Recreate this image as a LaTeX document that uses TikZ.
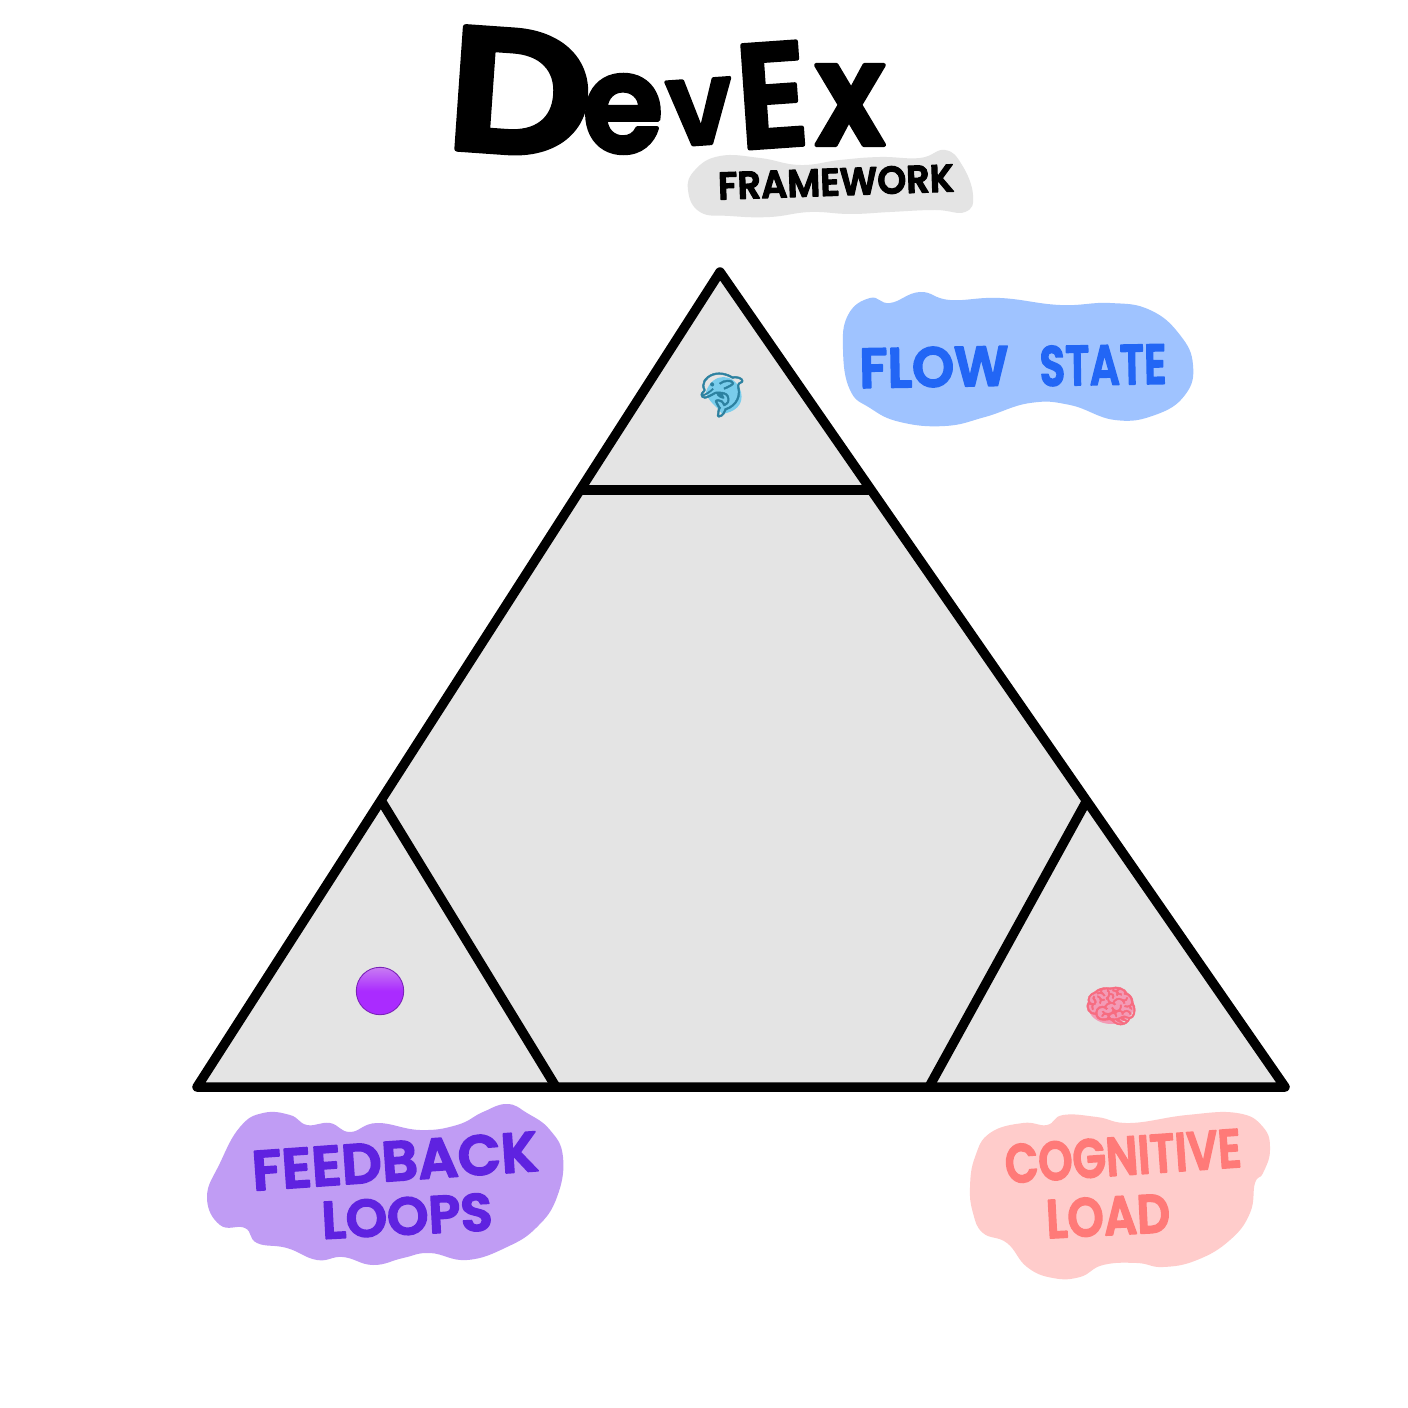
\documentclass[tikz,border=0pt]{standalone}
\usepackage{fontspec}
\newfontfamily\hand[RawFeature={embolden=3}]{Poppins SemiBold}
\newfontfamily\handheavy[RawFeature={embolden=3}]{Poppins SemiBold}
\newfontfamily\emojifont[RawFeature={embolden=1}]{Noto Emoji}
\newcommand{\rnd}{\special{pdf:code 1 j 1 J}}
\newcommand{\sq}[2]{\scalebox{#1}[1]{\rnd #2}}
\definecolor{panel}{HTML}{E4E4E4}
\definecolor{flowbg}{HTML}{9FC3FF}
\definecolor{flowfg}{HTML}{2266F5}
\definecolor{feedbg}{HTML}{C09CF4}
\definecolor{feedfg}{HTML}{5F22E0}
\definecolor{cogbg}{HTML}{FFCCCB}
\definecolor{cogfg}{HTML}{FF7A78}
\definecolor{dottop}{HTML}{C87CF2}
\definecolor{dotmid}{HTML}{AA2BFF}
\definecolor{dotrim}{HTML}{7A22B8}
\definecolor{dolphinblue}{HTML}{3FB8E4}
\definecolor{brainpink}{HTML}{F39BB6}
\tikzset{
  edge/.style={line width=5.4pt,line cap=round,line join=round,black},
  blob/.style={smooth cycle,tension=0.75},
  titleletter/.style={inner sep=0,font=\handheavy\fontsize{100}{100}\selectfont},
  tag/.style={inner sep=0,font=\hand\fontsize{34}{34}\selectfont},
  emoji/.style={inner sep=0,font=\emojifont\fontsize{25}{25}\selectfont},
}
\begin{document}
\begin{tikzpicture}[x=0.02cm,y=-0.02cm]
\useasboundingbox (0,0) rectangle (1408,1408);
\fill[white] (0,0) rectangle (1408,1408);

% blobs
\fill[panel] plot[blob] coordinates {(688,190)(695,170)(720,156)(760,158)(800,165)(840,160)(880,157)(920,158)(945,150)(962,165)(973,195)(965,212)(935,210)(890,212)(850,214)(810,212)(770,217)(730,216)(700,212)};
\fill[flowbg] plot[blob] coordinates {(843,350)(848,315)(870,298)(890,303)(920,292)(950,300)(1000,298)(1060,305)(1110,303)(1150,310)(1180,335)(1193,365)(1185,395)(1155,415)(1115,420)(1070,405)(1030,403)(985,417)(945,426)(900,422)(870,408)(850,390)};
\fill[feedbg] plot[blob] coordinates {(207,1197)(220,1163)(240,1127)(263,1113)(290,1115)(307,1125)(330,1123)(350,1132)(377,1123)(420,1130)(457,1125)(483,1112)(507,1104)(527,1113)(550,1130)(563,1157)(557,1197)(537,1227)(507,1247)(467,1260)(430,1253)(403,1258)(373,1265)(343,1257)(317,1260)(287,1248)(257,1243)(245,1228)(220,1225)};
\fill[cogbg] plot[blob] coordinates {(970,1187)(975,1157)(990,1133)(1023,1123)(1047,1125)(1063,1115)(1097,1117)(1130,1123)(1187,1115)(1237,1113)(1263,1127)(1270,1150)(1263,1173)(1255,1183)(1250,1213)(1230,1240)(1197,1260)(1163,1267)(1137,1263)(1103,1265)(1080,1277)(1053,1278)(1027,1267)(1007,1243)(983,1233)(973,1213)};

% triangle
\coordinate (apex) at (720,272);
\coordinate (bl) at (197,1087);
\coordinate (br) at (1285,1087);
\coordinate (tl) at (582,490);
\coordinate (tr) at (868,490);
\coordinate (ll) at (382,802);
\coordinate (lb) at (556,1087);
\coordinate (rr) at (1086,802);
\coordinate (rb) at (929,1087);
\coordinate (sm1) at (848,493);
\coordinate (sm2) at (862,493);
\fill[panel] (apex) -- (br) -- (bl) -- cycle;
\draw[edge] (apex) -- (br) -- (bl) -- cycle;
\draw[edge] (tl) -- (tr);
\draw[edge] (ll) -- (lb);
\draw[edge] (rr) -- (rb);
\draw[edge,line width=2.5pt] (sm1) -- (sm2);

% title
\node[titleletter,rotate=-4] (tD) at (520,92) {\sq{1.15}{D}};
\node[titleletter,scale=.78] (te) at (623,114) {\sq{.95}{e}};
\node[titleletter,scale=.66,rotate=4] (tv) at (700,112) {\sq{.95}{v}};
\node[titleletter,scale=.84,rotate=4] (tE) at (772,95) {\sq{.9}{E}};
\node[titleletter,scale=.82] (tx) at (850,105) {\sq{.9}{x}};
\node[tag,rotate=2,font=\hand\fontsize{22}{22}\selectfont] (fw) at (836,182) {\sq{.95}{FRAMEWORK}};

% labels
\node[tag,rotate=1,font=\hand\fontsize{32}{32}\selectfont,text=flowfg] (flow) at (934,367) {\sq{.95}{FLOW}};
\node[tag,rotate=1,font=\hand\fontsize{32}{32}\selectfont,text=flowfg] (state) at (1103,365) {\sq{.75}{STATE}};
\node[tag,rotate=4,font=\hand\fontsize{32}{32}\selectfont,text=feedfg] (feed) at (395,1161) {\sq{1}{FEEDBACK}};
\node[tag,rotate=3,font=\hand\fontsize{30}{30}\selectfont,text=feedfg] (loops) at (407,1216) {\sq{1}{LOOPS}};
\node[tag,rotate=4,font=\hand\fontsize{31}{31}\selectfont,text=cogfg] (cog) at (1123,1156) {\sq{.8}{COGNITIVE}};
\node[tag,rotate=3,font=\hand\fontsize{31}{31}\selectfont,text=cogfg] (load) at (1108,1216) {\sq{.85}{LOAD}};

% icons
\fill[dolphinblue!70!white] (706,392) .. controls (712,372) and (735,372) .. (741,392) .. controls (744,405) and (735,412) .. (722,414) .. controls (716,405) and (708,402) .. (706,392) -- cycle;
\fill[brainpink] (1111,1006) ellipse [x radius=23,y radius=18];
\node[emoji,text=dolphinblue!70!black] (dolphin) at (722,395) {\char"1F42C};
\node[emoji,text=brainpink!70!red] (brain) at (1111,1006) {\char"1F9E0};
\node[circle,minimum size=27pt,inner sep=0,draw=dotrim,line width=.5pt,top color=dottop,bottom color=dotmid,middle color=dotmid] (dot) at (380,991) {};
\end{tikzpicture}
\end{document}
